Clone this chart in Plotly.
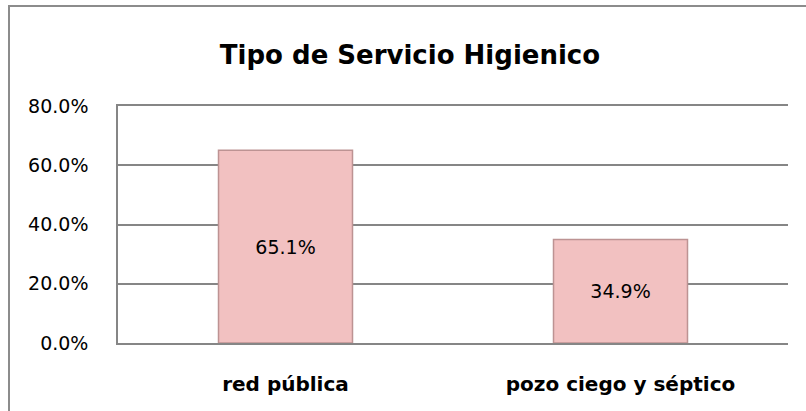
import plotly.graph_objects as go

categories = ["red pública", "pozo ciego y séptico"]
values = [65.1, 34.9]
tick_vals = [0, 20, 40, 60, 80]
tick_text = ["0.0%", "20.0%", "40.0%", "60.0%", "80.0%"]
title_text = "Tipo de Servicio Higienico"

FONT = "DejaVu Sans"

fig = go.Figure()
fig.add_trace(go.Bar(
    x=categories,
    y=values,
    text=[f"{v:.1f}%" for v in values],
    textposition="inside",
    insidetextanchor="middle",
    textfont=dict(family=FONT, size=19, color="#000000"),
    marker=dict(color="#F2C1C1", line=dict(color="#BD9393", width=1.5)),
    width=0.4,
    hoverinfo="skip",
))

W, H = 806, 411
ml, mr, mt, mb = 118, 18, 106, 68
pw, ph = W - ml - mr, H - mt - mb

def px_x(x):
    return (x - ml) / pw

def px_y(y):
    return (H - mb - y) / ph

fig.update_layout(
    width=W, height=H,
    margin=dict(l=ml, r=mr, t=mt, b=mb),
    paper_bgcolor="white",
    plot_bgcolor="white",
    showlegend=False,
    title=dict(text=f"<b>{title_text}</b>", x=410 / W, xanchor="center",
               y=1 - 55 / H, yanchor="middle",
               font=dict(family=FONT, size=26, color="#000000")),
    xaxis=dict(showgrid=False, showline=True, mirror=True,
               linecolor="#868686", linewidth=1.5,
               ticks="", tickfont=dict(family=FONT, size=20, color="#000000",
                                       weight="bold"),
               ticklabelstandoff=22, fixedrange=True),
    yaxis=dict(range=[0, 80], tickvals=tick_vals, ticktext=tick_text,
               showgrid=True, gridcolor="#868686", gridwidth=1.5,
               showline=True, linecolor="#868686", linewidth=1.5,
               ticks="", ticklabelstandoff=24,
               tickfont=dict(family=FONT, size=19, color="#000000"),
               zeroline=False, fixedrange=True),
    shapes=[dict(type="rect", xref="paper", yref="paper",
                 x0=px_x(9), x1=px_x(830), y0=px_y(440), y1=px_y(6),
                 line=dict(color="#8C8C8C", width=2), fillcolor="rgba(0,0,0,0)",
                 layer="below")],
)

fig.write_html(
    "out.html",
    config={"displayModeBar": False},
    post_script="document.body.style.margin='0';document.body.style.overflow='hidden';",
)
